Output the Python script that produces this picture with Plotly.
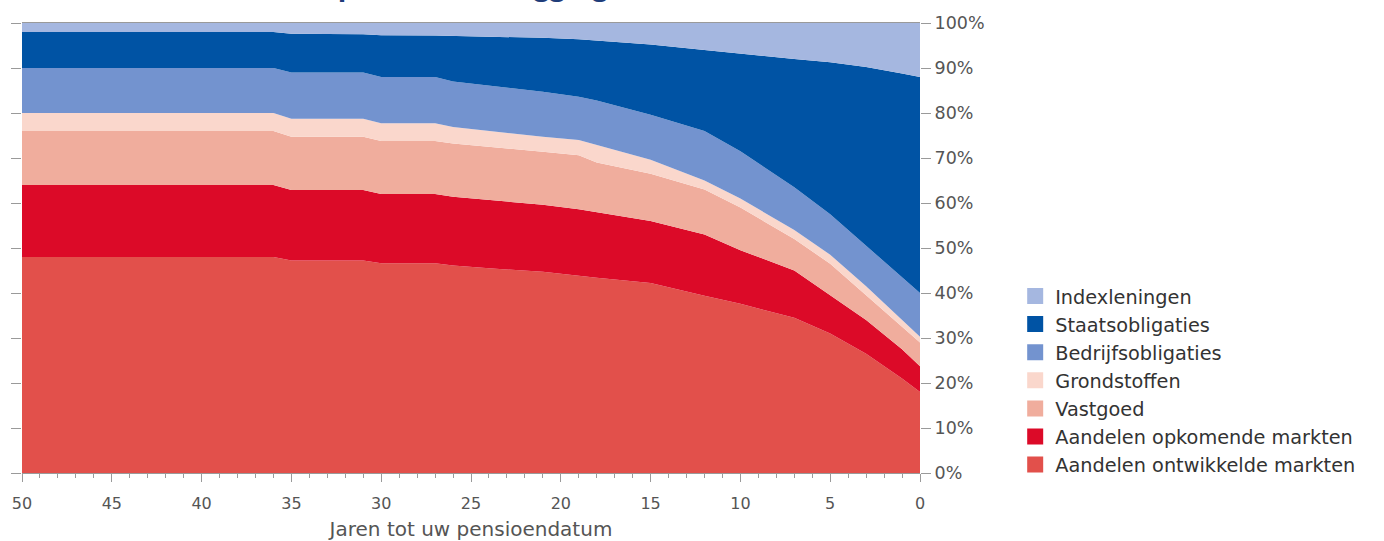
import numpy as np
import plotly.graph_objects as go

# Years to retirement (x) and cumulative top edge of each layer (%)
years = [50, 36, 35, 31, 30, 27, 26, 24, 21, 19, 18, 15, 12, 10, 7, 5, 3, 1, 0]
top_dev = [48, 48, 47.2, 47.2, 46.6, 46.6, 46.1, 45.5, 44.7, 43.8, 43.4, 42.2, 39.4, 37.6, 34.5, 31, 26.5, 21, 18]
top_em = [64, 64, 62.9, 62.9, 62, 62, 61.4, 60.7, 59.6, 58.6, 58, 56, 53, 49.5, 45, 39.5, 34, 27.5, 23.7]
top_vast = [76, 76, 74.7, 74.7, 73.8, 73.8, 73.2, 72.5, 71.4, 70.6, 69, 66.5, 63, 59, 52, 46.5, 39.5, 32.5, 29]
top_grond = [80, 80, 78.7, 78.7, 77.7, 77.7, 76.9, 76, 74.7, 74, 72.8, 69.6, 65, 61, 54, 48.5, 41.5, 34, 30.3]
top_bedr = [90, 90, 89, 89, 88, 88, 87, 86, 84.7, 83.6, 82.8, 79.6, 76, 71.5, 63.5, 57.5, 50.5, 43.5, 40]
top_staat = [98, 98, 97.6, 97.5, 97.3, 97.2, 97.1, 97, 96.7, 96.4, 96.2, 95.2, 94, 93.3, 92, 91.3, 90.2, 88.8, 88]
top_index = [100] * len(years)

names = ["Aandelen ontwikkelde markten", "Aandelen opkomende markten", "Vastgoed",
         "Grondstoffen", "Bedrijfsobligaties", "Staatsobligaties", "Indexleningen"]
colors = ["#E2504B", "#DC0A28", "#F0AD9D", "#FAD7CC", "#7393CF", "#0053A4", "#A5B7E0"]

tops = np.array([top_dev, top_em, top_vast, top_grond, top_bedr, top_staat, top_index], dtype=float)
shares = np.diff(np.vstack([np.zeros(len(years)), tops]), axis=0)

FONT = "DejaVu Sans"
fig = go.Figure()
for name, col, vals in zip(names, colors, shares):
    fig.add_trace(go.Scatter(x=years, y=vals, name=name, stackgroup="one", mode="lines",
                             line=dict(width=0, color=col), fillcolor=col, showlegend=False))

# legend entries (top to bottom)
for name, col in zip(names[::-1], colors[::-1]):
    fig.add_trace(go.Scatter(x=[None], y=[None], mode="markers", name=name,
                             marker=dict(symbol="square", size=16, color=col)))

fig.update_layout(
    width=1384, height=541,
    margin=dict(l=22, r=464, t=23, b=68),
    paper_bgcolor="white", plot_bgcolor="white",
    font=dict(family=FONT, color="#555555"),
    showlegend=True,
    legend=dict(x=1.106, y=0.4356, xanchor="left", yanchor="top", traceorder="normal",
                font=dict(size=19.3, color="#333333", family=FONT), bgcolor="rgba(0,0,0,0)"),
    xaxis=dict(range=[50, 0], tickvals=list(range(0, 51, 5)), ticks="outside", ticklen=8,
               tickcolor="#9a9a9a", showline=True, linecolor="#9a9a9a", linewidth=1, mirror=True,
               minor=dict(dtick=1, ticks="outside", ticklen=4, tickcolor="#9a9a9a"),
               showgrid=False, zeroline=False, tickfont=dict(size=16, color="#555555"),
               ticklabelstandoff=8, automargin=False,
               title=dict(text="Jaren tot uw pensioendatum", font=dict(size=20, color="#555555"), standoff=12)),
    yaxis=dict(range=[0, 100], side="right", dtick=10, ticksuffix="%", ticks="outside", ticklen=10,
               tickcolor="#9a9a9a", mirror="ticks", showline=False, showgrid=False, zeroline=False,
               tickfont=dict(size=17.5, color="#555555"), automargin=False),
    annotations=[dict(text="<b>Uw opbouw in beleggingsmix</b>", xref="paper", yref="paper",
                      x=0.5, y=1.039, xanchor="center", yanchor="bottom", showarrow=False,
                      font=dict(size=28, color="#1F3D7A", family="Open Sans"))],
)

fig.write_html("out.html", config={"displayModeBar": False},
               post_script="document.body.style.margin='0px';")
